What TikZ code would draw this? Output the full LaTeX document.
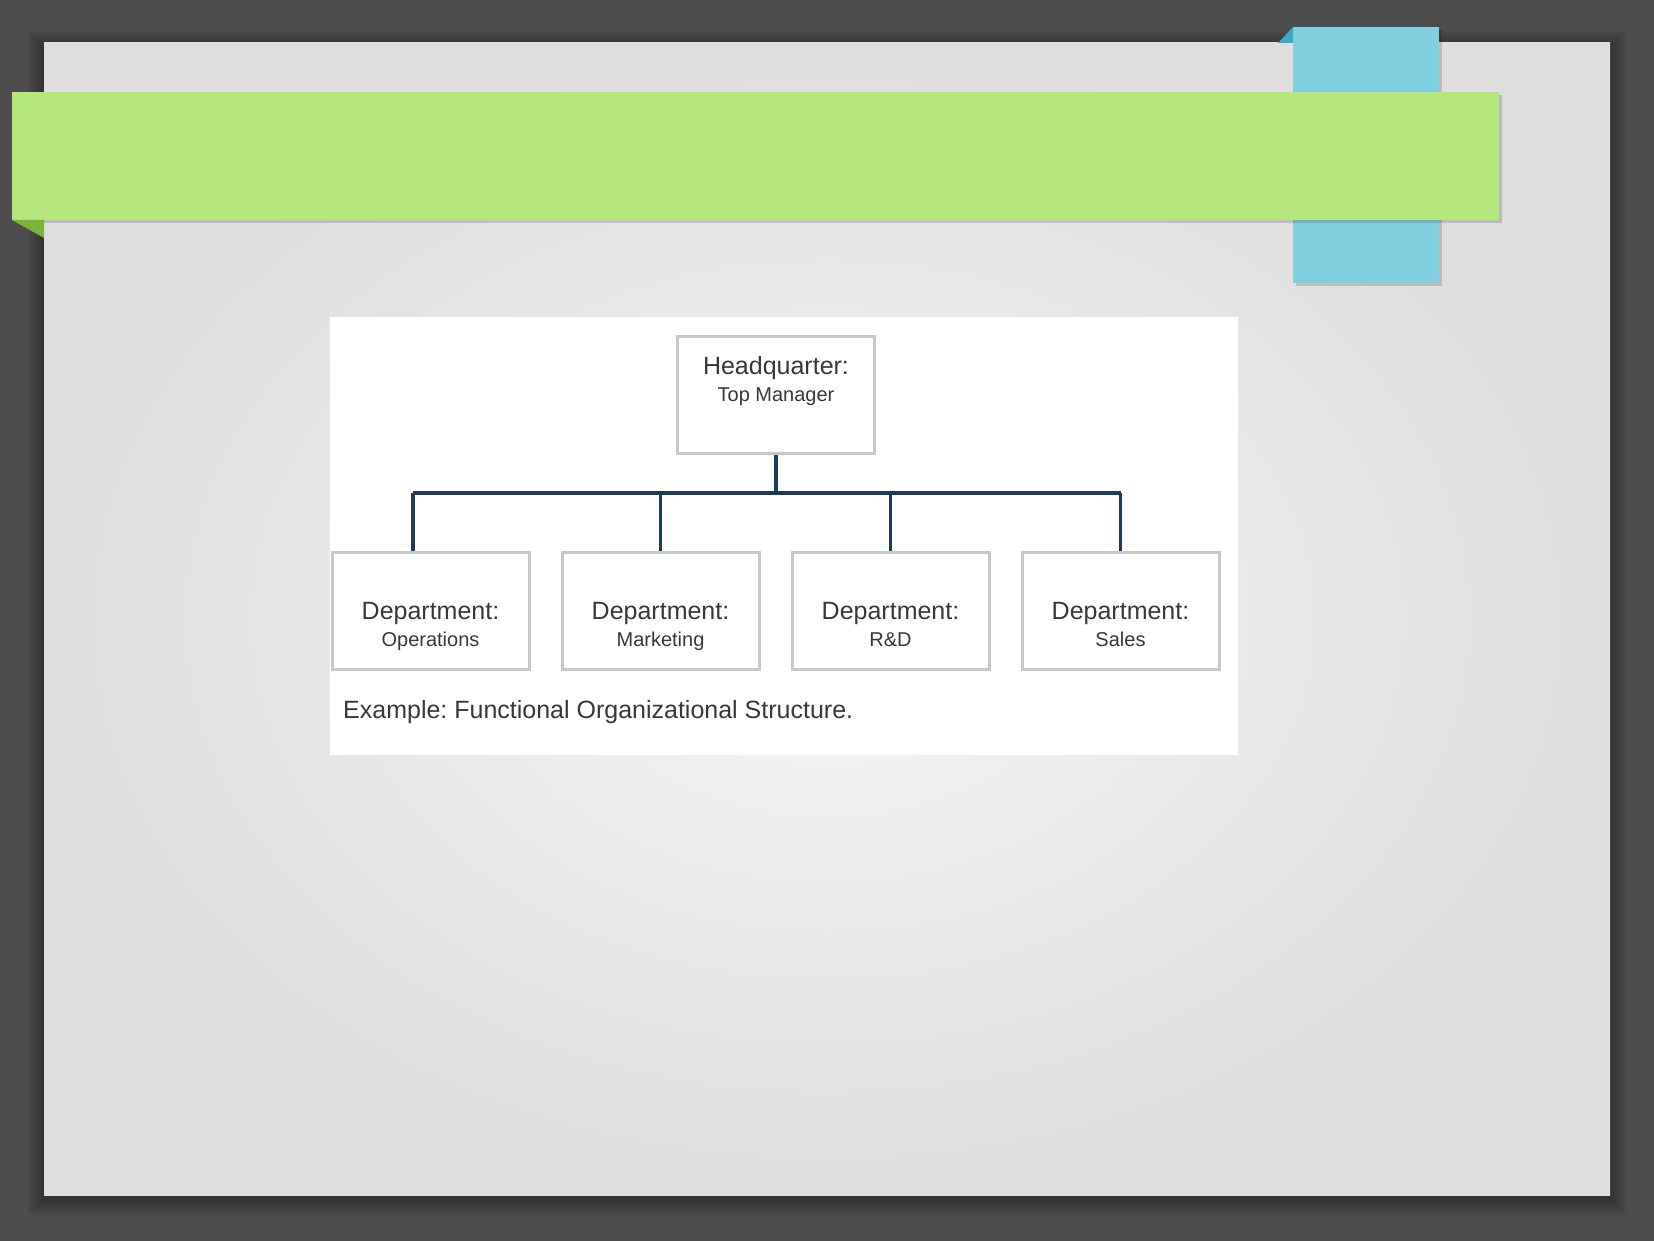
\documentclass[tikz,border=0pt]{standalone}
\usepackage{fontspec}
\setmainfont{Liberation Sans}
\usetikzlibrary{positioning}
\frenchspacing

\definecolor{bgdark}{HTML}{4D4D4D}
\definecolor{slidein}{HTML}{F7F7F7}
\definecolor{slideout}{HTML}{DEDEDE}
\definecolor{ribbongreen}{HTML}{B6E77E}
\definecolor{foldgreen}{HTML}{7DB33A}
\definecolor{ribbonblue}{HTML}{80D0E0}
\definecolor{foldblue}{HTML}{3AA8C6}
\definecolor{boxgray}{HTML}{C8C8C8}
\definecolor{busblue}{HTML}{1F3B5C}
\definecolor{textgray}{HTML}{383838}

\begin{document}
\begin{tikzpicture}[
        x=1pt, y=-1pt,
        node distance=230pt,
        box/.style={rectangle, draw=boxgray, line width=3pt, fill=white, minimum width=197pt, minimum height=117pt},
        boxtext/.style={align=center, inner sep=0pt, text=textgray, font=\fontsize{20}{26.5}\selectfont},
        bus/.style={draw=busblue, line width=3.8pt}
    ]
        \useasboundingbox (0,0) rectangle (1654,1241);
        \fill[bgdark] (0,0) rectangle (1654,1241);

        % slide with soft shadow
        \foreach \s in {2,4,...,16}
            \fill[black, opacity=0.045] (44-\s,43-\s+4) rectangle (1610+\s,1195+\s+4);
        \shade[inner color=slidein, outer color=slideout] (44,43) rectangle (1610,1195);

        % blue tab
        \fill[black, opacity=0.15] (1296,30) rectangle (1442,286);
        \fill[ribbonblue] (1293,27) rectangle (1439,283);
        \fill[foldblue] (1278,43) -- (1293,27) -- (1293,43) -- cycle;

        % green title band
        \fill[black, opacity=0.15] (15,95) rectangle (1502,223);
        \fill[ribbongreen] (12,92) rectangle (1499,220);
        \fill[foldgreen] (12,220) -- (44,220) -- (44,238) -- cycle;

        % picture panel
        \fill[white] (330,317) rectangle (1238,755);

        \node [box] (hq) at (776,395) {};
        \node [box] (ops) at (430.5,610.5) {};
        \node [box, right of=ops] (mkt) {};
        \node [box, right of=mkt] (rnd) {};
        \node [box, right of=rnd] (sales) {};

        \node [boxtext, anchor=north] (hqlabel) at ([yshift=38.5pt]hq.center)
            {{\fontsize{25}{28}\selectfont Headquarter:}\\Top Manager};
        \node [boxtext, anchor=north] (opslabel) at ([yshift=8pt]ops.center)
            {{\fontsize{25}{28}\selectfont Department:}\\Operations};
        \node [boxtext, anchor=north] (mktlabel) at ([yshift=8pt]mkt.center)
            {{\fontsize{25}{28}\selectfont Department:}\\Marketing};
        \node [boxtext, anchor=north] (rndlabel) at ([yshift=8pt]rnd.center)
            {{\fontsize{25}{28}\selectfont Department:}\\R\&D};
        \node [boxtext, anchor=north] (saleslabel) at ([yshift=8pt]sales.center)
            {{\fontsize{25}{28}\selectfont Department:}\\Sales};

        \node [boxtext, anchor=west, font=\fontsize{25}{28}\selectfont] (caption) at (343,712)
            {Example: Functional Organizational Structure.};

        \coordinate (busL) at (413,493);
        \coordinate (busR) at (1121,493);
        \path [bus] (hq.south) -- (hq.south |- busL);
        \path [bus] (busL) -- (busR);
        \path [bus] (busL) -- (busL |- ops.north);
        \path [bus] (mkt.north |- busL) -- (mkt.north);
        \path [bus] (rnd.north |- busL) -- (rnd.north);
        \path [bus] (sales.north |- busL) -- (sales.north);
    \end{tikzpicture}
\end{document}
